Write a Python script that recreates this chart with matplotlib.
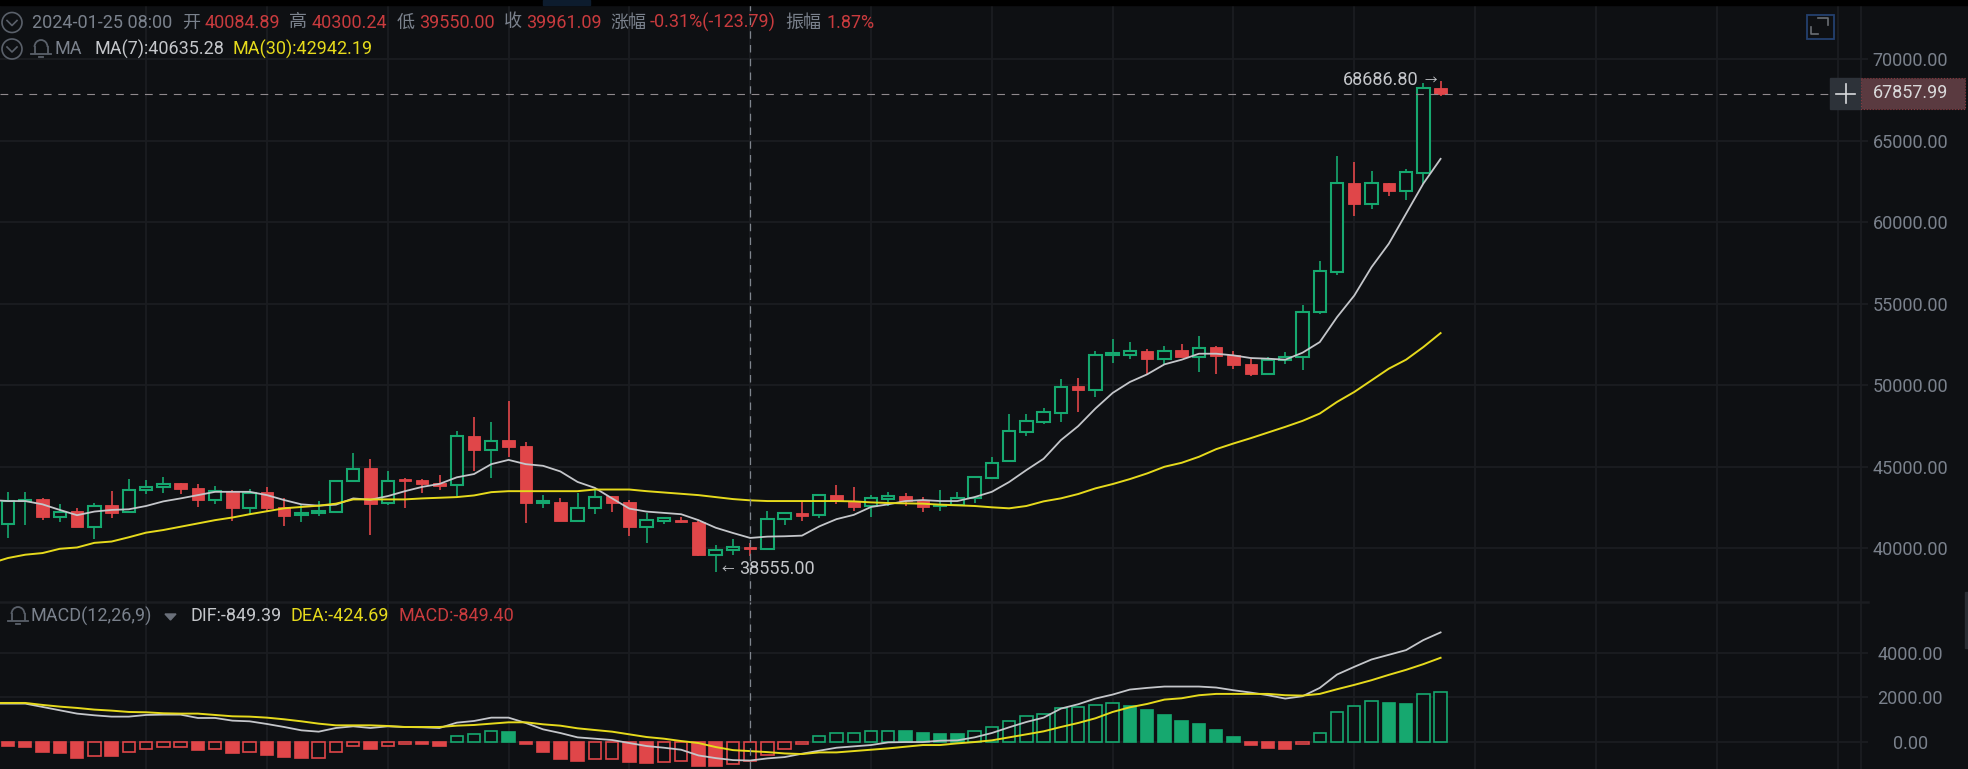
import matplotlib
matplotlib.use('Agg')
import matplotlib.pyplot as plt
from matplotlib.patches import Circle, Rectangle, Arc
import numpy as np

plt.rcParams['font.family'] = ['Roboto', 'Noto Sans CJK SC', 'DejaVu Sans']

# candles, oldest first
open_ = [41485, 42899, 43000, 41950, 42273, 41303, 42637, 42233, 43606, 43768, 43990, 43727, 42940, 43546,
         42495, 43445, 42515, 42031, 42152, 42212, 44152, 44899, 42758, 44273, 44172, 44010, 43889, 46899,
         46050, 46636, 46273, 42758, 42818, 41667, 42495, 43182, 42818, 41303, 41667, 41728, 41627, 39607,
         39869, 40084.89, 39950, 41788, 42172, 42031, 43263, 42899, 42576, 43041, 43182, 42980, 42576, 42677,
         43061, 44333, 45328, 47164, 47776, 48327, 49939, 49714, 51836, 51836, 52122, 51612, 52142, 51734,
         52326, 51856, 51326, 50714, 51550, 51734, 54488, 56964, 62438, 61105, 62438, 61945, 63053, 68260]
high = [43465, 43424, 43061, 42738, 42455, 42778, 43505, 44273, 44212, 44394, 44010, 43970, 43808, 43606,
        43667, 43788, 43101, 42657, 42899, 44152, 45848, 45485, 44717, 44313, 44232, 44475, 47222, 48055,
        47766, 49037, 46495, 43263, 43061, 43404, 43606, 43182, 42960, 42192, 41930, 41930, 41687, 40213,
        40576, 40300.24, 42273, 42233, 42839, 43344, 43869, 43748, 43283, 43465, 43404, 43121, 43566, 43424,
        44414, 45586, 48246, 48225, 48633, 50388, 50428, 52081, 52856, 52632, 52203, 52428, 52530, 53019,
        52428, 52101, 51632, 51734, 52020, 54937, 57620, 64057, 63708, 63155, 62438, 63278, 68547, 68686.80]
low = [40617, 41445, 41707, 41627, 41283, 40596, 41829, 42192, 43303, 43404, 43303, 42536, 42738, 41687,
       42132, 42253, 41344, 41586, 42010, 42212, 44152, 40798, 42657, 42495, 43404, 43586, 43182, 44717,
       44313, 45586, 41546, 42495, 41667, 41667, 42091, 42233, 40738, 40334, 41485, 41526, 39526, 38555.00,
       39566, 39550.00, 39910, 41445, 41667, 41849, 42717, 42313, 41930, 42576, 42576, 42253, 42313, 42657,
       42798, 44333, 45328, 46879, 47613, 47756, 48368, 49286, 51387, 51591, 50714, 51326, 51714, 50816,
       50694, 51000, 50571, 50632, 51326, 50959, 54400, 56738, 60408, 60818, 61617, 61371, 62376, 67768]
close = [42899, 42980, 41950, 42253, 41283, 42616, 42192, 43606, 43788, 43970, 43647, 42940, 43525, 42495,
         43404, 42455, 42010, 42152, 42273, 44152, 44879, 42738, 44152, 44131, 43950, 43849, 46879, 46030,
         46596, 46192, 42758, 42899, 41667, 42495, 43162, 42758, 41303, 41707, 41829, 41586, 39586, 39910,
         40071, 39961.09, 41788, 42152, 42010, 43243, 42899, 42556, 43061, 43182, 42899, 42556, 42657, 43061,
         44354, 45242, 47185, 47817, 48348, 49918, 49694, 51856, 51958, 52122, 51612, 52122, 51714, 52305,
         51816, 51244, 50694, 51571, 51754, 54508, 57005, 62417, 61105, 62417, 61925, 63073, 68219, 67857.99]
# the four indicator lines start one candle earlier, off the left edge
ma7 = [42960, 42899, 42899, 42697, 42354, 42031, 42253, 42354, 42394, 42596, 42879, 43061, 43263, 43465, 43465,
       43465, 43263, 42960, 42697, 42616, 42677, 43061, 42980, 43202, 43505, 43768, 43950, 44354, 44556,
       45162, 45424, 45162, 45061, 44717, 44071, 43707, 43061, 42435, 42253, 42172, 42091, 41728, 41263,
       40940, 40635.28, 40718, 40738, 40778, 41344, 41788, 42051, 42536, 42697, 42899, 42960, 42899, 42899,
       43142, 43465, 44064, 44798, 45492, 46634, 47491, 48572, 49531, 50204, 50673, 51285, 51571, 51938,
       51938, 51836, 51673, 51632, 51571, 51999, 52652, 54182, 55508, 57251, 58686, 60531, 62376, 63893]
ma30 = [39081, 39405, 39607, 39708, 39970, 40051, 40334, 40415, 40677, 40960, 41122, 41324, 41526, 41728, 41889,
        42091, 42273, 42455, 42536, 42616, 42738, 43000, 43000, 43000, 43000, 43061, 43101, 43142, 43243,
        43445, 43505, 43505, 43505, 43505, 43505, 43606, 43606, 43606, 43505, 43424, 43344, 43263, 43142,
        43020, 42942.19, 42899, 42899, 42899, 42899, 42899, 42879, 42818, 42778, 42758, 42738, 42677, 42637,
        42596, 42515, 42452, 42595, 42880, 43064, 43329, 43676, 43941, 44247, 44594, 45002, 45247, 45614,
        46083, 46430, 46756, 47103, 47450, 47817, 48266, 48980, 49592, 50306, 51020, 51571, 52346, 53203]
dif = [1720, 1720, 1720, 1569, 1418, 1268, 1192, 1132, 1132, 1207, 1222, 1222, 1071, 1071, 951,
       920, 800, 664, 513, 453, 619, 694, 619, 694, 664, 649, 619, 860, 936,
       1086, 1086, 845, 558, 392, 196, 136, 75, -60, -196, -272, -362, -619, -740,
       -830, -849.39, -754, -694, -543, -407, -272, -211, -151, -30, -15, -15, 45, 60,
       196, 392, 649, 890, 1086, 1494, 1690, 1947, 2128, 2354, 2429, 2490, 2490, 2490,
       2445, 2324, 2218, 2098, 1947, 2052, 2429, 3033, 3380, 3712, 3923, 4135, 4587, 4934]
dea = [1750, 1750, 1750, 1660, 1584, 1524, 1449, 1403, 1343, 1328, 1283, 1268, 1268, 1207, 1147,
       1132, 1086, 1011, 920, 815, 739, 739, 739, 709, 664, 664, 664, 724, 755,
       815, 875, 875, 785, 724, 604, 528, 453, 332, 211, 136, 30, -60, -241,
       -380, -424.69, -470, -530, -558, -483, -483, -423, -362, -302, -226, -151, -151, -75,
       -15, 60, 196, 332, 468, 664, 845, 1056, 1343, 1554, 1705, 1901, 1962, 2098,
       2158, 2158, 2158, 2158, 2098, 2082, 2158, 2369, 2565, 2777, 3018, 3244, 3501, 3788]
hist = [-196, -256, -468, -528, -724, -649, -649, -453, -317, -241, -235, -392, -317, -528,
        -453, -604, -709, -724, -715, -453, -181, -332, -181, -121, -121, -211, 256, 332,
        468, 423, -121, -468, -800, -875, -785, -780, -936, -940, -920, -860, -1086, -1090,
        -1011, -849.40, -588, -317, -121, 256, 392, 395, 470, 485, 480, 407, 347, 340,
        468, 664, 936, 1147, 1268, 1535, 1545, 1675, 1750, 1630, 1434, 1222, 951, 815,
        543, 211, -136, -272, -347, -90, 392, 1328, 1615, 1826, 1765, 1690, 2158, 2233]
price_ticks = [40000, 45000, 50000, 55000, 60000, 65000, 70000]
macd_ticks = [0, 2000, 4000]
last_price = 67857.99
hover_i = 43

W, H = 1968, 769
BG = '#0e1013'
GRID = '#1b1d21'
RED = '#e04649'
GREEN = '#16a86f'
YELLOW = '#e6da1c'
WHITE = '#c4c6ca'
GREY = '#7a818c'
HEAD_RED = '#c93b3e'

# candle n sits at pixel x0 + n * step
x0, step = 8, 17.26
right = 1868
fig = plt.figure(figsize=(W / 100, H / 100), dpi=100, facecolor=BG)


def pane(top, bottom):
    ax = fig.add_axes([0, 1 - bottom / H, right / W, (bottom - top) / H], facecolor=BG)
    ax.set_xlim(-x0 / step, (right - x0) / step)
    ax.set_xticks(range(8, 107, 7))
    ax.grid(True, color=GRID, lw=1.3)
    ax.set_axisbelow(True)
    ax.tick_params(length=0, labelbottom=False, labelleft=False, left=False, right=False,
                   labelright=True, labelcolor=GREY, labelsize=13, pad=30.5)
    for s in ax.spines.values():
        s.set_visible(False)
    ax.axvline(1860.5 / step - x0 / step, color=GRID, lw=1.3, zorder=0)
    return ax


ax = pane(0, 602)
# y limits from the pixel rows of the 70000 and 40000 lines
ax.set_ylim(70000 - (602 - 59.3) / 0.0163, 70000 + 59.3 / 0.0163)
ax.set_yticks(price_ticks)
ax.set_yticklabels([f'{v:.2f}' for v in price_ticks])

ax2 = pane(602, H)
ax2.set_ylim((741.7 - H) / 0.02215, (741.7 - 602) / 0.02215)
ax2.set_yticks(macd_ticks)
ax2.set_yticklabels([f'{v:.2f}' for v in macd_ticks])
ax2.axhline(ax2.get_ylim()[1], color=GRID, lw=1.8, clip_on=False)
for a in (ax, ax2):
    for lab in a.get_yticklabels():
        lab.set_ha('center')

# candles
w = 0.72
for i in range(len(open_)):
    o, h, l, c = open_[i], high[i], low[i], close[i]
    top, bot = max(o, c), min(o, c)
    if c >= o:
        ax.vlines(i, top, h, color=GREEN, lw=1.2, zorder=2)
        ax.vlines(i, l, bot, color=GREEN, lw=1.2, zorder=2)
        ax.bar(i, top - bot, w, bot, facecolor=BG, edgecolor=GREEN, lw=1.5, zorder=3)
    else:
        ax.vlines(i, l, h, color=RED, lw=1.2, zorder=2)
        ax.bar(i, top - bot, w, bot, color=RED, edgecolor=RED, lw=0.6, zorder=3)

xs = np.arange(-1, len(open_))
ax.plot(xs, ma7, color=WHITE, lw=1.3, zorder=4)
ax.plot(xs, ma30, color=YELLOW, lw=1.4, zorder=4)

ax.axhline(last_price, color='#8f898d', lw=0.8, dashes=(7, 6), zorder=5)
for a in (ax, ax2):
    a.axvline(hover_i, color='#7f858d', lw=0.9, dashes=(6, 5), zorder=5)

ax.annotate('68686.80', (83, max(high)), xytext=(-22, 1), textcoords='offset pixels', ha='right', va='center',
            color=WHITE, fontsize=13, zorder=6)
ax.annotate('→', (83, max(high)), xytext=(-4, 1), textcoords='offset pixels', ha='right', va='center',
            color=WHITE, fontsize=9, zorder=6)
ax.annotate('←', (41, min(low)), xytext=(6, 3), textcoords='offset pixels', ha='left', va='center',
            color=WHITE, fontsize=9, zorder=6)
ax.annotate('38555.00', (41, min(low)), xytext=(23, 3), textcoords='offset pixels', ha='left', va='center',
            color=WHITE, fontsize=13, zorder=6)

# macd bars: hollow while the histogram is rising
for i, v in enumerate(hist):
    col = GREEN if v >= 0 else RED
    hollow = i > 0 and v > hist[i - 1]
    ax2.bar(i, v, w, facecolor=BG if hollow else col, edgecolor=col, lw=1.2, zorder=2)
ax2.plot(xs, dif, color=WHITE, lw=1.3, zorder=4)
ax2.plot(xs, dea, color=YELLOW, lw=1.4, zorder=4)

# toolbar bits and legends, in pixel coordinates
ov = fig.add_axes([0, 0, 1, 1])
ov.set_xlim(0, W)
ov.set_ylim(H, 0)
ov.axis('off')
ov.add_patch(Rectangle((0, 0), W, 5, color='#000000'))
ov.add_patch(Rectangle((543, 0), 47, 5, color='#0d1c2e'))


def label(x, y, s, color=GREY):
    ov.text(x, y, s, color=color, fontsize=13, va='center', ha='left')


def chevron(x, y):
    ov.add_patch(Circle((x, y), 10, fill=False, ec='#5a606a', lw=1.2))
    ov.plot([x - 5, x, x + 5], [y - 2, y + 3, y - 2], color='#5a606a', lw=1.2)


def bell(x, y):
    ov.add_patch(Arc((x, y - 1), 13, 14, theta1=180, theta2=360, ec='#5a606a', lw=1.3))
    ov.plot([x - 6.5, x - 6.5], [y - 1, y + 5], color='#5a606a', lw=1.3)
    ov.plot([x + 6.5, x + 6.5], [y - 1, y + 5], color='#5a606a', lw=1.3)
    ov.plot([x - 10, x + 10], [y + 6, y + 6], color='#5a606a', lw=1.3)
    ov.plot([x - 2, x + 2], [y + 9, y + 9], color='#5a606a', lw=1.3)


chevron(12, 22.5)
chevron(12, 49)
bell(41, 48)
bell(18, 615)

row1 = [(32.5, '2024-01-25 08:00', GREY), (182, '开', GREY), (205, '40084.89', HEAD_RED), (289, '高', GREY),
        (312, '40300.24', HEAD_RED), (397, '低', GREY), (419, '39550.00', HEAD_RED), (504, '收', GREY),
        (526, '39961.09', HEAD_RED), (610, '涨幅', GREY), (650, '-0.31%(-123.79)', HEAD_RED), (785, '振幅', GREY),
        (826, '1.87%', HEAD_RED)]
for x, s, c in row1:
    label(x, 22.5, s, c)
label(55, 49, 'MA')
label(95, 49, 'MA(7):40635.28', WHITE)
label(233, 49, 'MA(30):42942.19', YELLOW)
label(30, 616, 'MACD(12,26,9)')
ov.fill([165, 176, 170.5], [614, 614, 620], color='#6a707a')
label(190, 616, 'DIF:-849.39', WHITE)
label(291, 616, 'DEA:-424.69', YELLOW)
label(398, 616, 'MACD:-849.40', HEAD_RED)

# expand icon
ov.add_patch(Rectangle((1806.5, 14.5), 27, 24.5, fill=False, ec='#24406e', lw=1.3))
ov.plot([1818, 1828, 1828], [18, 18, 25], color='#6a6e74', lw=1.2)
ov.plot([1810.5, 1810.5, 1818], [27, 34, 34], color='#6a6e74', lw=1.2)

# last price tag
ov.add_patch(Rectangle((1830, 78), 31, 30.5, color='#2d3239'))
ov.plot([1836, 1855], [93.5, 93.5], color='#d8dadd', lw=1.2)
ov.plot([1845.5, 1845.5], [84, 103], color='#d8dadd', lw=1.2)
ov.add_patch(Rectangle((1861, 78), 103.5, 30.5, facecolor='#5a3a40', edgecolor='#8a3a40', lw=0.8, ls=':'))
ov.text(1911, 93.5, '67857.99', color='#d9d9da', fontsize=13, ha='center', va='center')

# scrollbar stub at the right edge
ov.add_patch(Rectangle((1965, 592), 3, 56, color='#2a2d33'))

fig.savefig('out.png', dpi=100, facecolor=BG)
